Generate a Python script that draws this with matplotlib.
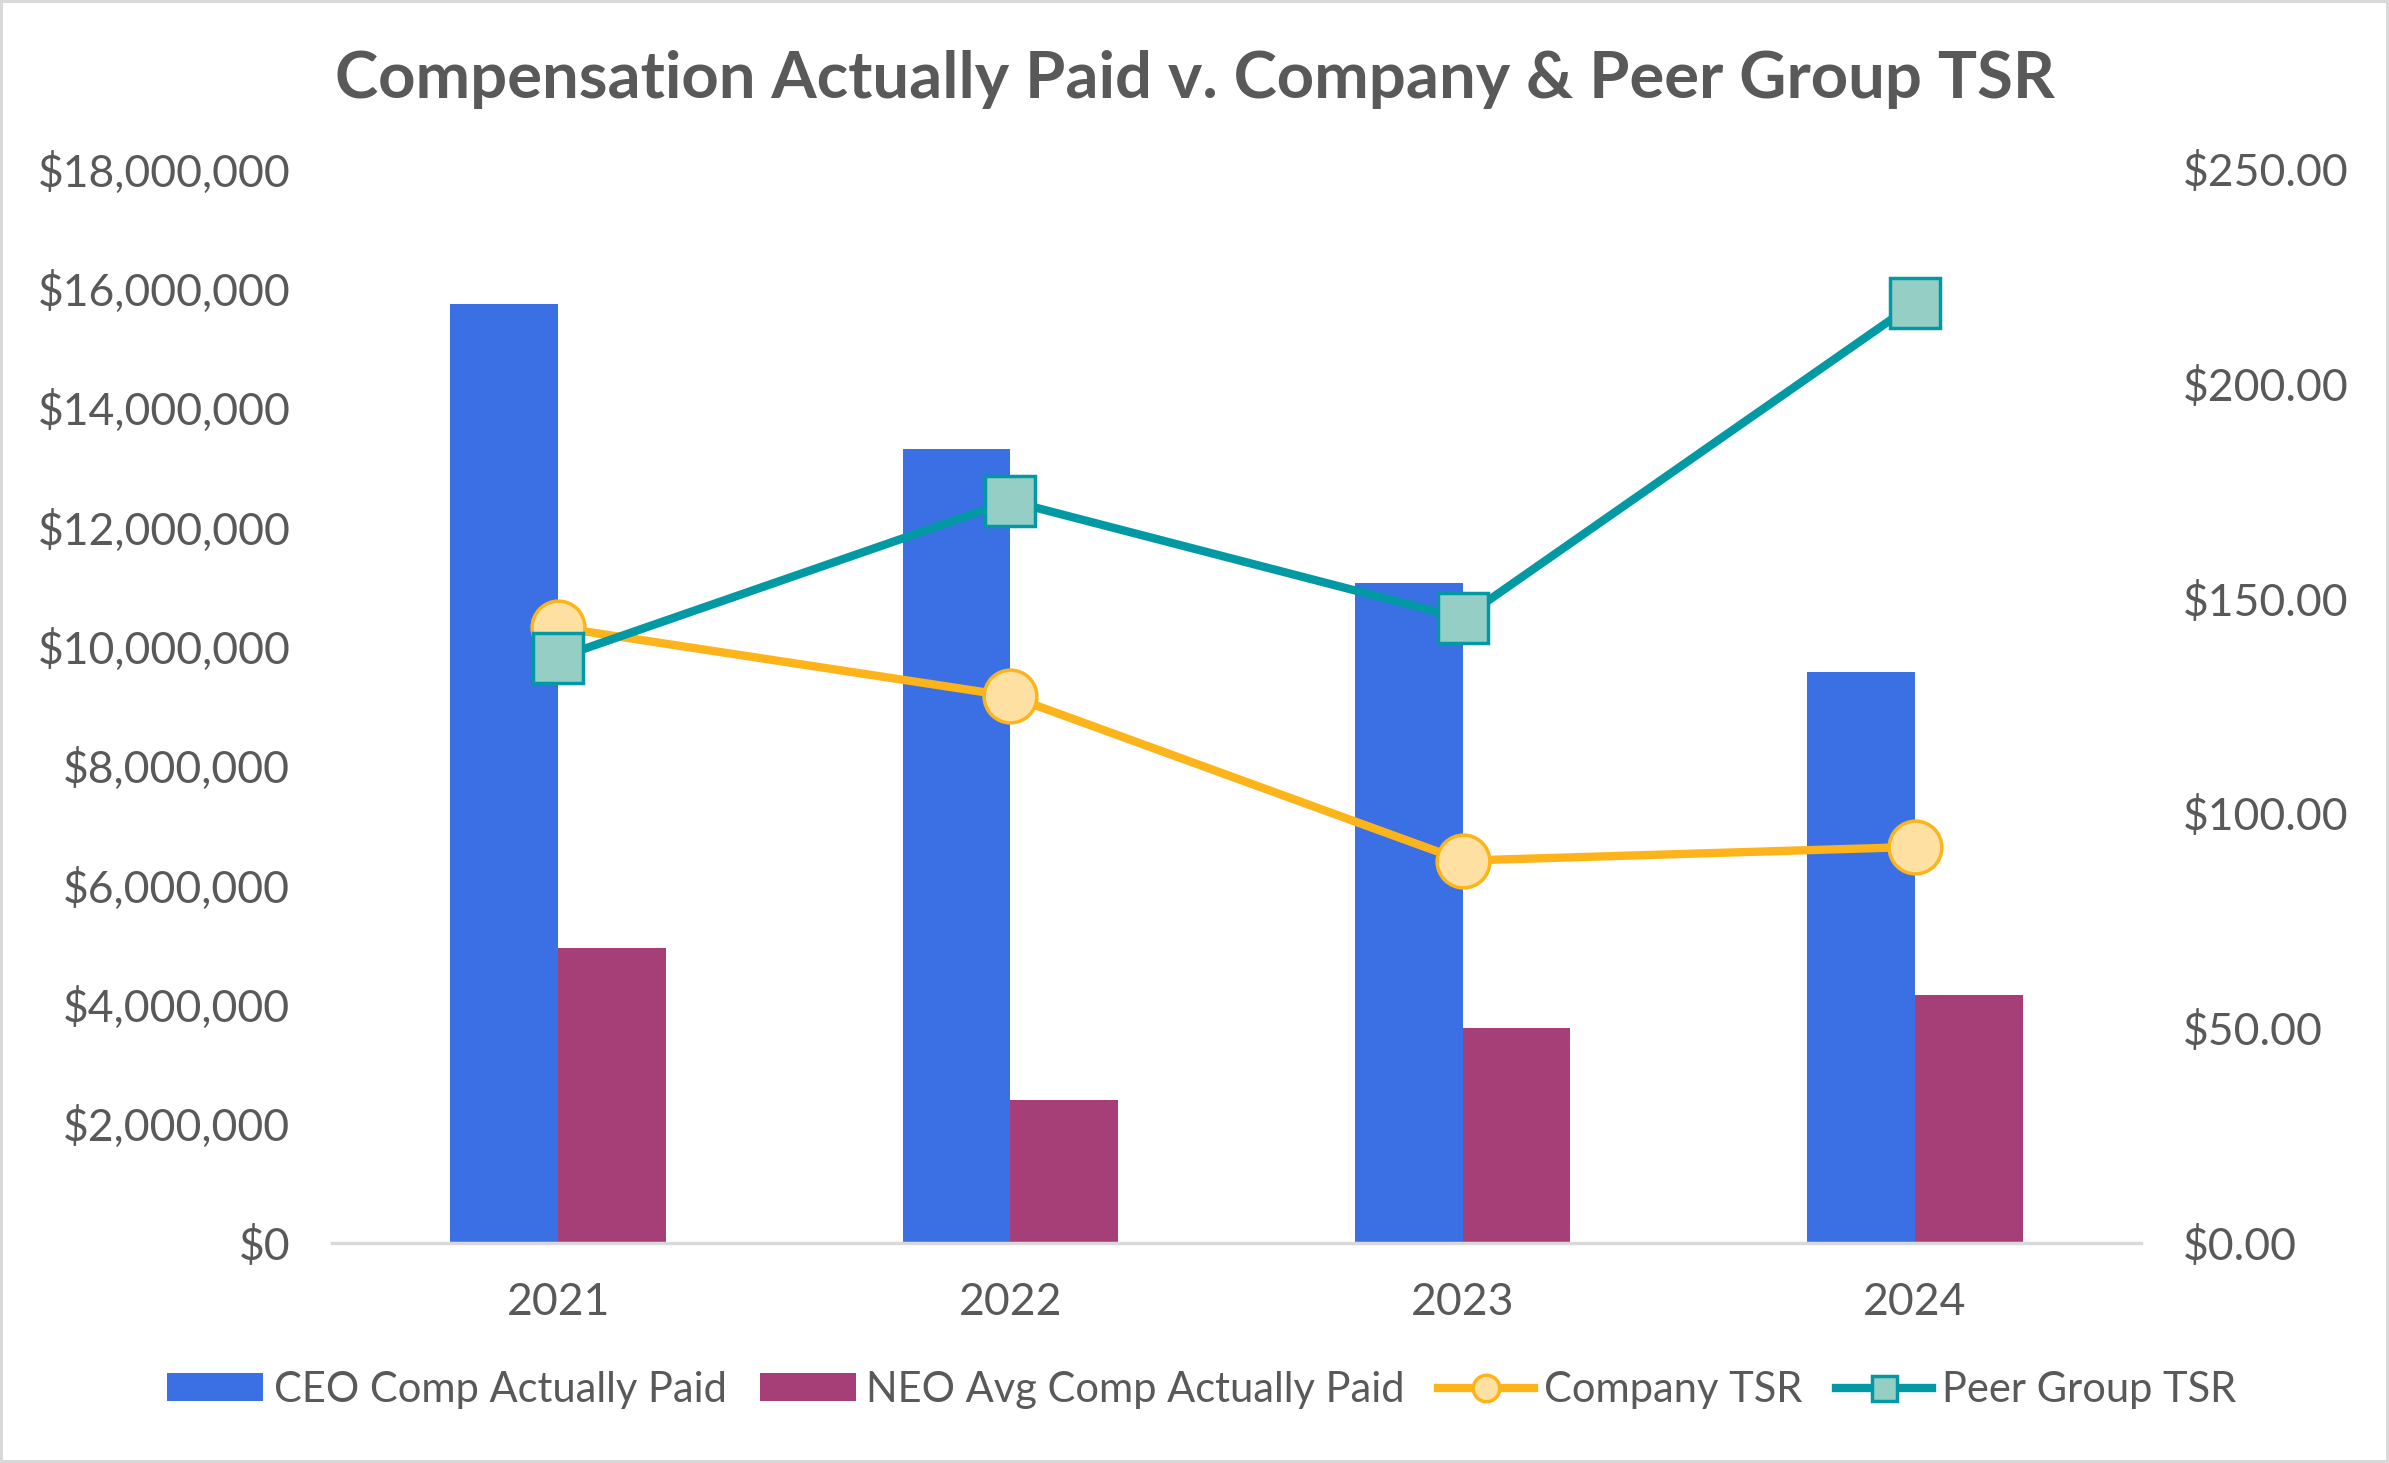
import numpy as np
import matplotlib.pyplot as plt
from matplotlib.ticker import FuncFormatter

# Data
years = ['2021', '2022', '2023', '2024']
ceo_cap = [15730000, 13300000, 11060000, 9570000]
neo_cap = [4950000, 2400000, 3600000, 4160000]
company_tsr = [143.3, 127.3, 89.0, 92.2]
peer_tsr = [136.2, 172.7, 145.4, 218.8]

text_color = '#595959'
plt.rcParams['font.family'] = ['Lato', 'DejaVu Sans']

fig = plt.figure(figsize=(23.89, 14.63), dpi=100)
fig.patch.set_edgecolor('#D9D9D9')
fig.patch.set_linewidth(3)
ax = fig.add_axes([332 / 2389, 1 - 1243 / 1463, (2141 - 332) / 2389, (1243 - 169) / 1463])
ax2 = ax.twinx()

x = np.arange(len(years))
w = 0.238
ax.bar(x - w / 2, ceo_cap, w, color='#3A70E3', label='CEO Comp Actually Paid', zorder=2)
ax.bar(x + w / 2, neo_cap, w, color='#A63F78', label='NEO Avg Comp Actually Paid', zorder=2)

ax2.plot(x, company_tsr, color='#FDB31A', lw=6, marker='o', markersize=38,
         markerfacecolor='#FFE0A3', markeredgecolor='#FDB31A', markeredgewidth=2.5,
         label='Company TSR', zorder=3)
ax2.plot(x, peer_tsr, color='#0099A4', lw=6, marker='s', markersize=36,
         markerfacecolor='#94CEC5', markeredgecolor='#0099A4', markeredgewidth=2.5,
         label='Peer Group TSR', zorder=4)

ax.set_xlim(-0.5, 3.5)
ax.set_ylim(0, 18000000)
ax2.set_ylim(0, 250)
ax.set_yticks(np.arange(0, 18000001, 2000000))
ax2.set_yticks(np.arange(0, 251, 50))
ax.yaxis.set_major_formatter(FuncFormatter(lambda v, p: '${:,.0f}'.format(v)))
ax2.yaxis.set_major_formatter(FuncFormatter(lambda v, p: '${:,.2f}'.format(v)))
ax.set_xticks(x)
ax.set_xticklabels(years)

for a in (ax, ax2):
    for s in a.spines.values():
        s.set_visible(False)
    a.tick_params(length=0, labelsize=32, colors=text_color)
ax.spines['bottom'].set_visible(True)
ax.spines['bottom'].set_color('#D9D9D9')
ax.spines['bottom'].set_linewidth(2.5)
ax.tick_params(axis='x', pad=28)
ax.tick_params(axis='y', pad=30)
ax2.tick_params(axis='y', pad=30)

fig.suptitle('Compensation Actually Paid v. Company & Peer Group TSR',
             fontsize=47, color=text_color, y=0.966, fontweight='bold')

h1, l1 = ax.get_legend_handles_labels()
h2, l2 = ax2.get_legend_handles_labels()
leg = fig.legend(h1 + h2, l1 + l2, loc='center', bbox_to_anchor=(0.503, 1 - 1390 / 1463),
                 ncol=4, frameon=False, fontsize=30, handlelength=2.3, handleheight=0.65,
                 columnspacing=0.8, handletextpad=0.25, markerscale=0.5)
for t in leg.get_texts():
    t.set_color(text_color)

fig.savefig('out.png', dpi=100, edgecolor=fig.get_edgecolor())
